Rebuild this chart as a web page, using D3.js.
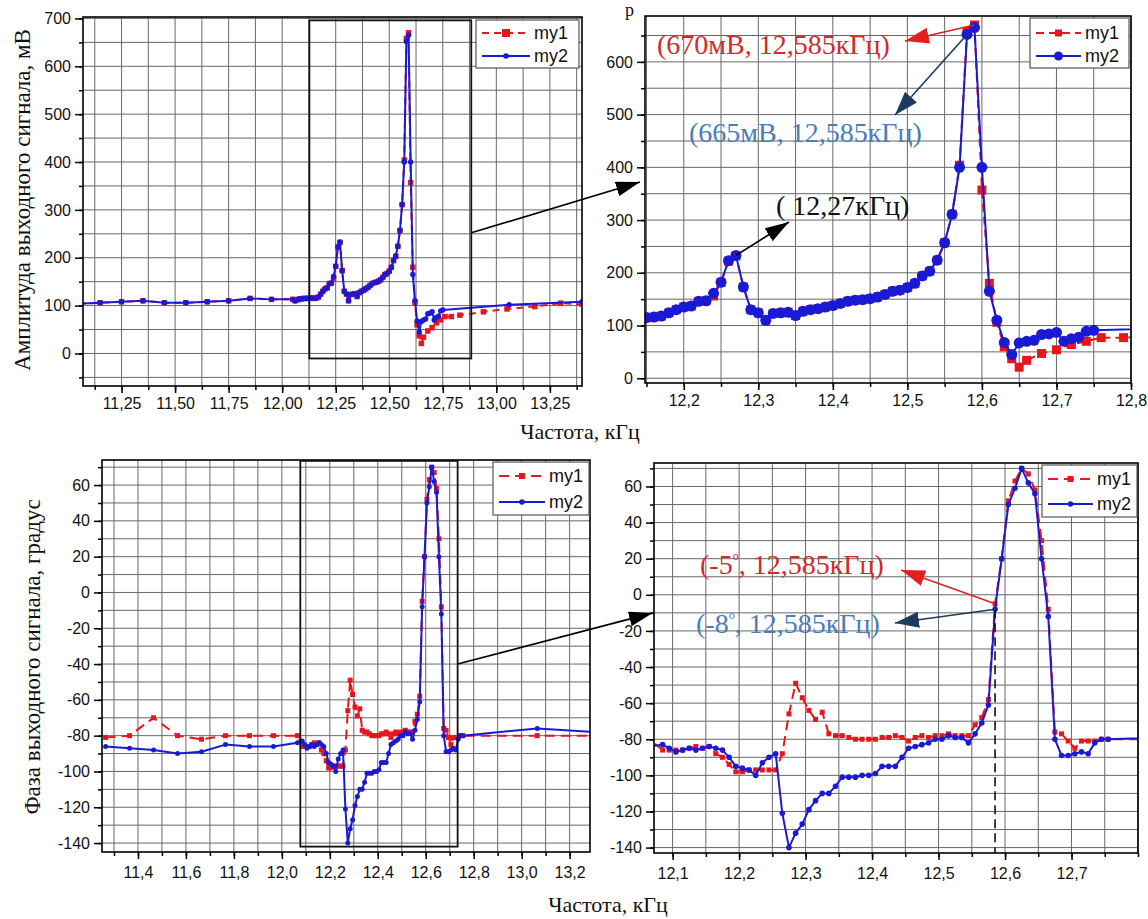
<!DOCTYPE html>
<html>
<head>
<meta charset="utf-8">
<script src="https://cdnjs.cloudflare.com/ajax/libs/d3/7.8.5/d3.min.js"></script>
<style>
  body { margin: 0; background: #fff; }
  svg { display: block; }
</style>
</head>
<body>
<svg id="chart" width="1148" height="919"></svg>
<script>
// ---------- Amplitude (мВ) ----------
const ampFreqMy2 = [11.05, 11.15, 11.25, 11.35, 11.45, 11.55, 11.65, 11.75, 11.85, 11.95,
  12.05, 12.06, 12.07, 12.08, 12.09, 12.10, 12.11, 12.12, 12.13, 12.14,
  12.15, 12.16, 12.17, 12.18, 12.19, 12.20, 12.21, 12.22, 12.23, 12.24,
  12.25, 12.26, 12.27, 12.28, 12.29, 12.30, 12.31, 12.32, 12.33, 12.34,
  12.35, 12.36, 12.37, 12.38, 12.39, 12.40, 12.41, 12.42, 12.43, 12.44,
  12.45, 12.46, 12.47, 12.48, 12.49, 12.50, 12.51, 12.52, 12.53, 12.54,
  12.55, 12.56, 12.57, 12.58, 12.59, 12.60, 12.61, 12.62, 12.63, 12.64,
  12.65, 12.66, 12.67, 12.68, 12.69, 12.70, 12.71, 12.72, 12.73, 12.74,
  12.75, 13.06, 13.40];
const ampMy2 = [104, 106, 108, 110, 106, 106, 108, 110, 115, 113,
  113, 110, 112, 114, 114, 115, 115, 115, 116, 116,
  115, 116, 118, 124, 130, 135, 137, 146, 147, 161,
  182, 223, 233, 173, 130, 124, 110, 123, 124, 125,
  119, 127, 130, 132, 135, 138, 142, 146, 148, 149,
  151, 154, 159, 165, 167, 172, 180, 194, 203, 224,
  257, 311, 400, 652, 665, 400, 165, 110, 68, 45,
  67, 70, 72, 83, 84, 87, 70, 75, 78, 89,
  91, 102, 108];

const ampFreqMy1 = [11.05, 11.15, 11.25, 11.35, 11.45, 11.55, 11.65, 11.75, 11.85, 11.95,
  12.05, 12.06, 12.07, 12.08, 12.09, 12.10, 12.11, 12.12, 12.13, 12.14,
  12.15, 12.16, 12.17, 12.18, 12.19, 12.20, 12.21, 12.22, 12.23, 12.24,
  12.25, 12.26, 12.27, 12.28, 12.29, 12.30, 12.31, 12.32, 12.33, 12.34,
  12.35, 12.36, 12.37, 12.38, 12.39, 12.40, 12.41, 12.42, 12.43, 12.44,
  12.45, 12.46, 12.47, 12.48, 12.49, 12.50, 12.51, 12.52, 12.53, 12.54,
  12.55, 12.56, 12.57, 12.58, 12.59, 12.60, 12.61, 12.62, 12.63, 12.64,
  12.65, 12.66, 12.68, 12.70, 12.72, 12.74, 12.76, 12.79, 12.83, 12.94,
  13.05, 13.18, 13.30, 13.40];
const ampMy1 = [104, 106, 108, 110, 106, 106, 108, 110, 115, 113,
  113, 110, 112, 114, 114, 115, 115, 115, 116, 116,
  115, 116, 118, 124, 130, 135, 137, 146, 147, 156,
  182, 222, 232, 173, 130, 124, 110, 123, 124, 125,
  119, 127, 130, 132, 135, 138, 142, 146, 148, 149,
  151, 154, 159, 165, 167, 172, 180, 194, 203, 224,
  257, 311, 404, 658, 670, 357, 180, 106, 60, 37,
  21, 34, 47, 54, 64, 70, 77, 77, 80, 87,
  93, 98, 105, 103];

// ---------- Phase (градус) ----------
const phaseFreq = [11.265, 11.365, 11.465, 11.565, 11.665, 11.765, 11.865, 11.965, 12.065,
  12.085, 12.095, 12.105, 12.115, 12.125, 12.135, 12.145, 12.155, 12.165, 12.175,
  12.185, 12.195, 12.205, 12.215, 12.225, 12.235, 12.245, 12.255, 12.265, 12.275,
  12.285, 12.295, 12.305, 12.315, 12.325, 12.335, 12.345, 12.355, 12.365, 12.375,
  12.385, 12.395, 12.405, 12.415, 12.425, 12.435, 12.445, 12.455, 12.465, 12.475,
  12.485, 12.495, 12.505, 12.515, 12.525, 12.535, 12.545, 12.555, 12.565, 12.575,
  12.585, 12.595, 12.605, 12.615, 12.625, 12.635, 12.645, 12.655, 12.665, 12.675,
  12.685, 12.695, 12.705, 12.715, 12.725, 12.735, 12.745, 12.755,
  13.065, 13.30];
const phaseMy1 = [-81, -80, -70, -80, -82, -80, -80, -80, -80,
  -86, -86, -86, -86, -85, -84, -85, -84, -88, -90,
  -94, -98, -98, -97, -97, -97, -97, -97, -88, -66,
  -49, -57, -64, -69, -65, -77, -78, -78, -79, -80,
  -80, -80, -80, -79, -79, -78, -79, -81, -79, -78,
  -79, -78, -78, -77, -78, -78, -78, -72, -68, -58,
  -5, 20, 52, 63, 70, 67, 58, 30, -8, -76,
  -77, -81, -85, -81, -81, -81, -80, -80,
  -80, -80];
const phaseMy2 = [-86, -87, -88, -90, -89, -85, -86, -86, -84,
  -83, -85, -87, -86, -85, -86, -85, -84, -85, -86,
  -90, -95, -96, -97, -100, -93, -90, -88, -121, -140,
  -132, -127, -119, -114, -110, -110, -106, -101, -101, -101,
  -100, -100, -99, -95, -95, -95, -90, -85, -84, -83,
  -82, -80, -80, -78, -79, -79, -82, -77, -71, -61,
  -8, 20, 50, 59, 70, 62, 56, 20, -12, -80,
  -89, -89, -88, -87, -88, -82, -80, -80,
  -76, -78];

// ---------- Tick labels ----------
const ampWideXTicks = [11.25, 11.5, 11.75, 12.0, 12.25, 12.5, 12.75, 13.0, 13.25];
const ampZoomXTicks = [12.2, 12.3, 12.4, 12.5, 12.6, 12.7, 12.8];
const phaseWideXTicks = [11.4, 11.6, 11.8, 12.0, 12.2, 12.4, 12.6, 12.8, 13.0, 13.2];
const phaseZoomXTicks = [12.1, 12.2, 12.3, 12.4, 12.5, 12.6, 12.7];
const ampWideYTicks = [0, 100, 200, 300, 400, 500, 600, 700];
const ampZoomYTicks = [0, 100, 200, 300, 400, 500, 600];
const phaseYTicks = [-140, -120, -100, -80, -60, -40, -20, 0, 20, 40, 60];
const seriesNames = ['my1', 'my2'];

// ---------- Style ----------
const RED = '#e8161c';
const BLUE = '#1a1ad4';
const SANS = '"Liberation Sans", Arial, sans-serif';
const SERIF = '"Liberation Serif", "Times New Roman", serif';

const svg = d3.select('#chart');
const defs = svg.append('defs');

function zip(xs, ys) { return xs.map((v, i) => [v, ys[i]]); }
function steps(start, end, step) {
  const n = Math.round((end - start) / step);
  return d3.range(n + 1).map(i => +(start + i * step).toFixed(4));
}
function commaFmt(digits) { return d => d.toFixed(digits).replace('.', ','); }

function arrowMarker(id, color, len, wid) {
  defs.append('marker')
    .attr('id', id)
    .attr('markerUnits', 'userSpaceOnUse')
    .attr('viewBox', `0 0 ${len} ${wid}`)
    .attr('refX', len).attr('refY', wid / 2)
    .attr('markerWidth', len).attr('markerHeight', wid)
    .attr('orient', 'auto')
    .append('path')
    .attr('d', `M0,0 L${len},${wid / 2} L0,${wid} Z`)
    .attr('fill', color);
}
arrowMarker('head-black', '#000', 24, 15);
arrowMarker('head-red', '#e3201f', 24, 16);
arrowMarker('head-dark', '#1e3a5c', 24, 16);

function drawPanel(p) {
  const x = d3.scaleLinear().domain(p.xDomain).range([p.left, p.right]);
  const y = d3.scaleLinear().domain(p.yDomain).range([p.bottom, p.top]);
  const g = svg.append('g');
  const clipId = 'clip-' + p.name;
  defs.append('clipPath').attr('id', clipId).append('rect')
    .attr('x', p.left).attr('y', p.top)
    .attr('width', p.right - p.left).attr('height', p.bottom - p.top);

  // grid
  const grid = g.append('g').attr('stroke', '#686868').attr('stroke-width', 1);
  grid.selectAll('.gx').data(p.xGrid).join('line')
    .attr('x1', d => x(d)).attr('x2', d => x(d))
    .attr('y1', p.top).attr('y2', p.bottom);
  grid.selectAll('.gy').data(p.yGrid).join('line')
    .attr('x1', p.left).attr('x2', p.right)
    .attr('y1', d => y(d)).attr('y2', d => y(d));

  // axes: minor then major ticks
  const bottom = g.append('g').attr('transform', `translate(0,${p.bottom})`);
  bottom.append('g').call(d3.axisBottom(x).tickValues(p.xGrid).tickSize(4).tickFormat(''));
  bottom.append('g').call(d3.axisBottom(x).tickValues(p.xTicks).tickSize(7)
    .tickPadding(p.xPad).tickFormat(commaFmt(p.xDigits)));
  const left = g.append('g').attr('transform', `translate(${p.left},0)`);
  left.append('g').call(d3.axisLeft(y).tickValues(p.yGrid).tickSize(4).tickFormat(''));
  left.append('g').call(d3.axisLeft(y).tickValues(p.yTicks).tickSize(8)
    .tickPadding(4).tickFormat(d => String(d)));
  g.selectAll('.domain').remove();
  g.selectAll('.tick line').attr('stroke', '#000').attr('stroke-width', 1.5);
  g.selectAll('.tick text').attr('font-family', SANS).attr('font-size', 16).attr('fill', '#111');

  // data
  const plot = g.append('g').attr('clip-path', `url(#${clipId})`);
  p.series.forEach(s => {
    const pts = zip(s.xs, s.ys);
    plot.append('path').datum(pts)
      .attr('fill', 'none').attr('stroke', s.color).attr('stroke-width', 2)
      .attr('stroke-dasharray', s.dash || null)
      .attr('stroke-linejoin', 'round')
      .attr('d', d3.line().x(d => x(d[0])).y(d => y(d[1])));
    if (s.shape === 'square') {
      plot.selectAll(null).data(pts).join('rect')
        .attr('x', d => x(d[0]) - s.size / 2).attr('y', d => y(d[1]) - s.size / 2)
        .attr('width', s.size).attr('height', s.size).attr('fill', s.color);
    } else {
      plot.selectAll(null).data(pts).join('circle')
        .attr('cx', d => x(d[0])).attr('cy', d => y(d[1])).attr('r', s.size)
        .attr('fill', s.color);
    }
  });

  // frame
  g.append('rect').attr('x', p.left).attr('y', p.top)
    .attr('width', p.right - p.left).attr('height', p.bottom - p.top)
    .attr('fill', 'none').attr('stroke', '#000').attr('stroke-width', 1.6);

  // legend
  const L = p.legend;
  const lg = g.append('g');
  lg.append('rect').attr('x', L.x).attr('y', L.y).attr('width', L.w).attr('height', L.h)
    .attr('fill', '#fff').attr('stroke', '#555').attr('stroke-width', 1.2);
  p.series.forEach((s, i) => {
    const yy = L.y + L.row0 + i * L.rowGap;
    lg.append('line').attr('x1', L.x + 6).attr('x2', L.x + 6 + L.lineLen)
      .attr('y1', yy).attr('y2', yy).attr('stroke', s.color).attr('stroke-width', 2)
      .attr('stroke-dasharray', s.dash || null);
    const cx = L.x + 6 + L.lineLen / 2;
    if (s.shape === 'square') {
      lg.append('rect').attr('x', cx - s.legendSize / 2).attr('y', yy - s.legendSize / 2)
        .attr('width', s.legendSize).attr('height', s.legendSize).attr('fill', s.color);
    } else {
      lg.append('circle').attr('cx', cx).attr('cy', yy).attr('r', s.legendSize).attr('fill', s.color);
    }
    lg.append('text').attr('x', L.x + 10 + L.lineLen).attr('y', yy + 6)
      .attr('font-family', SANS).attr('font-size', 18).attr('fill', '#111')
      .text(seriesNames[i]);
  });
  return { x, y, g, p };
}

// ---------- Panels ----------
const ampWide = drawPanel({
  name: 'amp-wide', left: 83, right: 582, top: 17, bottom: 386,
  xDomain: [11.07, 13.40], yDomain: [-68, 703],
  xTicks: ampWideXTicks, xDigits: 2, xPad: 5, xGrid: steps(11.125, 13.375, 0.125),
  yTicks: ampWideYTicks, yGrid: steps(-50, 700, 50),
  series: [
    { xs: ampFreqMy1, ys: ampMy1, color: RED, dash: '7,5', shape: 'square', size: 5.5, legendSize: 8 },
    { xs: ampFreqMy2, ys: ampMy2, color: BLUE, shape: 'circle', size: 2.7, legendSize: 2.8 }
  ],
  legend: { x: 476, y: 20, w: 103, h: 48, row0: 13, rowGap: 23, lineLen: 48 }
});

const ampZoom = drawPanel({
  name: 'amp-zoom', left: 645, right: 1131, top: 16, bottom: 383,
  xDomain: [12.148, 12.80], yDomain: [-9, 687],
  xTicks: ampZoomXTicks, xDigits: 1, xPad: 5, xGrid: steps(12.15, 12.80, 0.05),
  yTicks: ampZoomYTicks, yGrid: steps(0, 650, 50),
  series: [
    { xs: ampFreqMy1, ys: ampMy1, color: RED, dash: '8,5', shape: 'square', size: 9, legendSize: 7 },
    { xs: ampFreqMy2, ys: ampMy2, color: BLUE, shape: 'circle', size: 5.5, legendSize: 4.5 }
  ],
  legend: { x: 1030, y: 18, w: 99, h: 50, row0: 15, rowGap: 23, lineLen: 45 }
});

const phaseWide = drawPanel({
  name: 'phase-wide', left: 102, right: 590, top: 460, bottom: 852,
  xDomain: [11.25, 13.285], yDomain: [-145, 74],
  xTicks: phaseWideXTicks, xDigits: 1, xPad: 8, xGrid: steps(11.3, 13.2, 0.1),
  yTicks: phaseYTicks, yGrid: steps(-140, 70, 10),
  series: [
    { xs: phaseFreq, ys: phaseMy1, color: RED, dash: '10,6', shape: 'square', size: 5, legendSize: 6 },
    { xs: phaseFreq, ys: phaseMy2, color: BLUE, shape: 'circle', size: 2.5, legendSize: 2.8 }
  ],
  legend: { x: 493, y: 462, w: 96, h: 53, row0: 14, rowGap: 26, lineLen: 46 }
});

const phaseZoom = drawPanel({
  name: 'phase-zoom', left: 654, right: 1138, top: 463, bottom: 853,
  xDomain: [12.072, 12.80], yDomain: [-143, 73],
  xTicks: phaseZoomXTicks, xDigits: 1, xPad: 8, xGrid: steps(12.1, 12.8, 0.05),
  yTicks: phaseYTicks, yGrid: steps(-140, 70, 10),
  series: [
    { xs: phaseFreq, ys: phaseMy1, color: RED, dash: '10,6', shape: 'square', size: 5, legendSize: 6 },
    { xs: phaseFreq, ys: phaseMy2, color: BLUE, shape: 'circle', size: 2.8, legendSize: 2.8 }
  ],
  legend: { x: 1042, y: 465, w: 95, h: 52, row0: 14, rowGap: 25, lineLen: 45 }
});

// ---------- Zoom frames and connectors ----------
function insetBox(panel, x0, x1, y0, y1) {
  svg.append('rect')
    .attr('x', panel.x(x0)).attr('y', panel.y(y1))
    .attr('width', panel.x(x1) - panel.x(x0)).attr('height', panel.y(y0) - panel.y(y1))
    .attr('fill', 'none').attr('stroke', '#111').attr('stroke-width', 1.8);
}
insetBox(ampWide, 12.127, 12.883, -10.5, 696);
insetBox(phaseWide, 12.077, 12.733, -142, 73.5);

function arrow(x1, y1, x2, y2, color, head, width) {
  svg.append('line')
    .attr('x1', x1).attr('y1', y1).attr('x2', x2).attr('y2', y2)
    .attr('stroke', color).attr('stroke-width', width || 1.6)
    .attr('marker-end', `url(#${head})`);
}
arrow(ampWide.x(12.883), ampWide.y(252), ampZoom.p.left - 5, ampZoom.y(372), '#000', 'head-black', 1.6);
arrow(phaseWide.x(12.733), phaseWide.y(-40), phaseZoom.p.left - 1, phaseZoom.y(-10), '#000', 'head-black', 1.6);

// ---------- Annotations: amplitude ----------
arrow(ampZoom.x(12.59), ampZoom.y(670), 905, 41, '#e3201f', 'head-red', 1.6);
arrow(ampZoom.x(12.58), ampZoom.y(652), 895, 115, '#1e3a5c', 'head-dark', 1.6);
arrow(ampZoom.x(12.27), ampZoom.y(233), 789, 222, '#000', 'head-black', 1.6);

function note(x, y, color, parts) {
  const t = svg.append('text').attr('x', x).attr('y', y)
    .attr('font-family', SERIF).attr('font-size', 28).attr('fill', color);
  parts.forEach(pt => {
    const s = t.append('tspan').text(pt.text);
    if (pt.sup) s.attr('font-size', 12).attr('dy', -14);
    if (pt.back) s.attr('dy', 14);
  });
}
note(657, 54, '#d42a2a', [{ text: '(670мВ, 12,585кГц)' }]);
note(689, 142, '#4a7dbb', [{ text: '(665мВ, 12,585кГц)' }]);
note(776, 215, '#111', [{ text: '( 12,27кГц)' }]);

// ---------- Annotations: phase ----------
svg.append('line')
  .attr('x1', phaseZoom.x(12.585)).attr('x2', phaseZoom.x(12.585))
  .attr('y1', phaseZoom.y(-8)).attr('y2', phaseZoom.p.bottom)
  .attr('stroke', '#111').attr('stroke-width', 1.6).attr('stroke-dasharray', '9,5');
arrow(phaseZoom.x(12.585), phaseZoom.y(-5), 901, 570, '#e3201f', 'head-red', 1.6);
arrow(phaseZoom.x(12.585), phaseZoom.y(-8), 895, 623, '#1e3a5c', 'head-dark', 1.6);
note(700, 574, '#d42a2a', [{ text: '(-5' }, { text: 'o', sup: true }, { text: ', 12,585кГц)', back: true }]);
note(696, 633, '#4a7dbb', [{ text: '(-8' }, { text: 'o', sup: true }, { text: ', 12,585кГц)', back: true }]);

// ---------- Axis titles ----------
function title(x, y, text, rotate, size) {
  svg.append('text')
    .attr('transform', `translate(${x},${y})${rotate ? ' rotate(-90)' : ''}`)
    .attr('text-anchor', 'middle')
    .attr('font-family', SERIF).attr('font-size', size).attr('fill', '#111')
    .text(text);
}
title(580, 439, 'Частота, кГц', false, 22);
title(608, 912, 'Частота, кГц', false, 22);
title(30, 200, 'Амплитуда выходного сигнала, мВ', true, 23);
title(40, 657, 'Фаза выходного сигнала, градус', true, 23);

// heading letter at the top edge
svg.append('text').attr('x', 625).attr('y', 16)
  .attr('font-family', SERIF).attr('font-size', 18).attr('fill', '#111').text('р');
</script>
</body>
</html>
